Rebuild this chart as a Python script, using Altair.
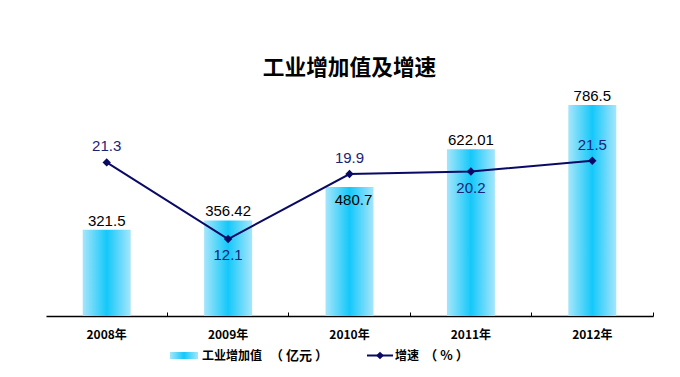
import altair as alt
import pandas as pd

years = ["2008年", "2009年", "2010年", "2011年", "2012年"]
value_added = [321.5, 356.42, 480.7, 622.01, 786.5]
growth = [21.3, 12.1, 19.9, 20.2, 21.5]
value_label = ["321.5", "356.42", "480.7", "622.01", "786.5"]
growth_label = ["21.3", "12.1", "19.9", "20.2", "21.5"]
below_years = ["2009年", "2011年"]
inside_value_years = ["2010年"]

df = pd.DataFrame({
    "year": years,
    "value": value_added,
    "growth": growth,
    "vlabel": value_label,
    "glabel": growth_label,
})

W, H = 607, 236
LINE_COLOR = "#0a0a66"
GLABEL_COLOR = "#1a2377"
LATIN = "Liberation Sans"
CJK = "Noto Sans CJK SC"

grad = alt.Gradient(
    gradient="linear",
    stops=[
        alt.GradientStop(color="#a6e6fb", offset=0),
        alt.GradientStop(color="#14c8fa", offset=0.5),
        alt.GradientStop(color="#a6e6fb", offset=1),
    ],
    x1=0, x2=1, y1=0, y2=0,
)

xscale = alt.Scale(paddingInner=0, paddingOuter=0)
yv = alt.Scale(domain=[0, 880])
yg = alt.Scale(domain=[2.86, 31.19])

base = alt.Chart(df)

def xenc(axis=None):
    return alt.X("year:N", sort=years, scale=xscale, title=None, axis=axis)

bars = base.mark_bar(size=48, color=grad).encode(
    x=xenc(alt.Axis(orient="bottom", domain=False, ticks=False, labelAngle=0,
                    labelFont=CJK, labelFontSize=12, labelFontWeight="bold",
                    labelColor="black", labelPadding=13)),
    y=alt.Y("value:Q", scale=yv, axis=None),
)

bar_text = base.transform_filter(
    ~alt.FieldOneOfPredicate(field="year", oneOf=inside_value_years)
).mark_text(baseline="alphabetic", dy=-4, font=LATIN, fontSize=15, color="black").encode(
    x=xenc(),
    y=alt.Y("value:Q", scale=yv, axis=None),
    text="vlabel:N",
)

bar_text_in = base.transform_filter(
    alt.FieldOneOfPredicate(field="year", oneOf=inside_value_years)
).mark_text(baseline="middle", dy=13, dx=4, font=LATIN, fontSize=15, color="black").encode(
    x=xenc(),
    y=alt.Y("value:Q", scale=yv, axis=None),
    text="vlabel:N",
)

line = base.mark_line(color=LINE_COLOR, strokeWidth=2).encode(
    x=xenc(alt.Axis(orient="top", offset=-H, labels=False, ticks=True, tickSize=4,
                    bandPosition=1, domainColor="black", tickColor="black",
                    domainWidth=1.5, tickWidth=1, grid=False)),
    y=alt.Y("growth:Q", scale=yg, axis=None),
)

pts = base.mark_point(shape="diamond", filled=True, size=70, color=LINE_COLOR,
                      opacity=1).encode(
    x=xenc(),
    y=alt.Y("growth:Q", scale=yg, axis=None),
)

g_above = base.transform_filter(
    ~alt.FieldOneOfPredicate(field="year", oneOf=below_years)
).mark_text(baseline="middle", dy=-16, font=LATIN, fontSize=15, color=GLABEL_COLOR).encode(
    x=xenc(),
    y=alt.Y("growth:Q", scale=yg, axis=None),
    text="glabel:N",
)

g_below = base.transform_filter(
    alt.FieldOneOfPredicate(field="year", oneOf=below_years)
).mark_text(baseline="middle", dy=16, font=LATIN, fontSize=15, color=GLABEL_COLOR).encode(
    x=xenc(),
    y=alt.Y("growth:Q", scale=yg, axis=None),
    text="glabel:N",
)

leg_names = pd.DataFrame({"name": ["工业增加值"], "unit": ["（ 亿元 ）"]})
leg_names2 = pd.DataFrame({"name": ["增速"], "unit": ["（ % ）"]})

LY = 275.5
leg_swatch = alt.Chart(leg_names).mark_rect(color=grad).encode(
    x=alt.value(124), x2=alt.value(152), y=alt.value(272), y2=alt.value(279))
leg_text1 = alt.Chart(leg_names).mark_text(align="left", baseline="middle", font=CJK,
                                           fontSize=12, fontWeight="bold", color="black").encode(
    x=alt.value(156), y=alt.value(LY), text="name:N")
leg_unit1 = alt.Chart(leg_names).mark_text(align="center", baseline="middle", font=CJK,
                                           fontSize=13, fontWeight="bold", color="black").encode(
    x=alt.value(253), y=alt.value(LY), text="unit:N")
leg_rule = alt.Chart(leg_names2).mark_rule(color=LINE_COLOR, strokeWidth=2).encode(
    x=alt.value(321), x2=alt.value(347), y=alt.value(LY))
leg_pt = alt.Chart(leg_names2).mark_point(shape="diamond", filled=True, size=60,
                                          color=LINE_COLOR, opacity=1).encode(
    x=alt.value(334), y=alt.value(LY))
leg_text2 = alt.Chart(leg_names2).mark_text(align="left", baseline="middle", font=CJK,
                                            fontSize=12, fontWeight="bold", color="black").encode(
    x=alt.value(349), y=alt.value(LY), text="name:N")
leg_unit2 = alt.Chart(leg_names2).mark_text(align="center", baseline="middle", font=CJK,
                                            fontSize=13, fontWeight="bold", color="black").encode(
    x=alt.value(400.5), y=alt.value(LY), text="unit:N")

chart = alt.layer(
    bars, bar_text, bar_text_in, line, pts, g_above, g_below,
    leg_swatch, leg_text1, leg_unit1, leg_rule, leg_pt, leg_text2, leg_unit2,
).resolve_scale(y="independent").resolve_axis(x="independent").properties(
    width=W, height=H,
    title=alt.TitleParams(text="工业增加值及增速", font=CJK, fontSize=21.7,
                          fontWeight="bold", anchor="middle", offset=0, color="black"),
    autosize=alt.AutoSizeParams(type="none"),
    padding={"left": 46, "top": 80, "right": 27, "bottom": 61},
    background="white",
).configure_view(stroke=None)

chart.save("out.html", embed_options={"renderer": "svg", "actions": False})
